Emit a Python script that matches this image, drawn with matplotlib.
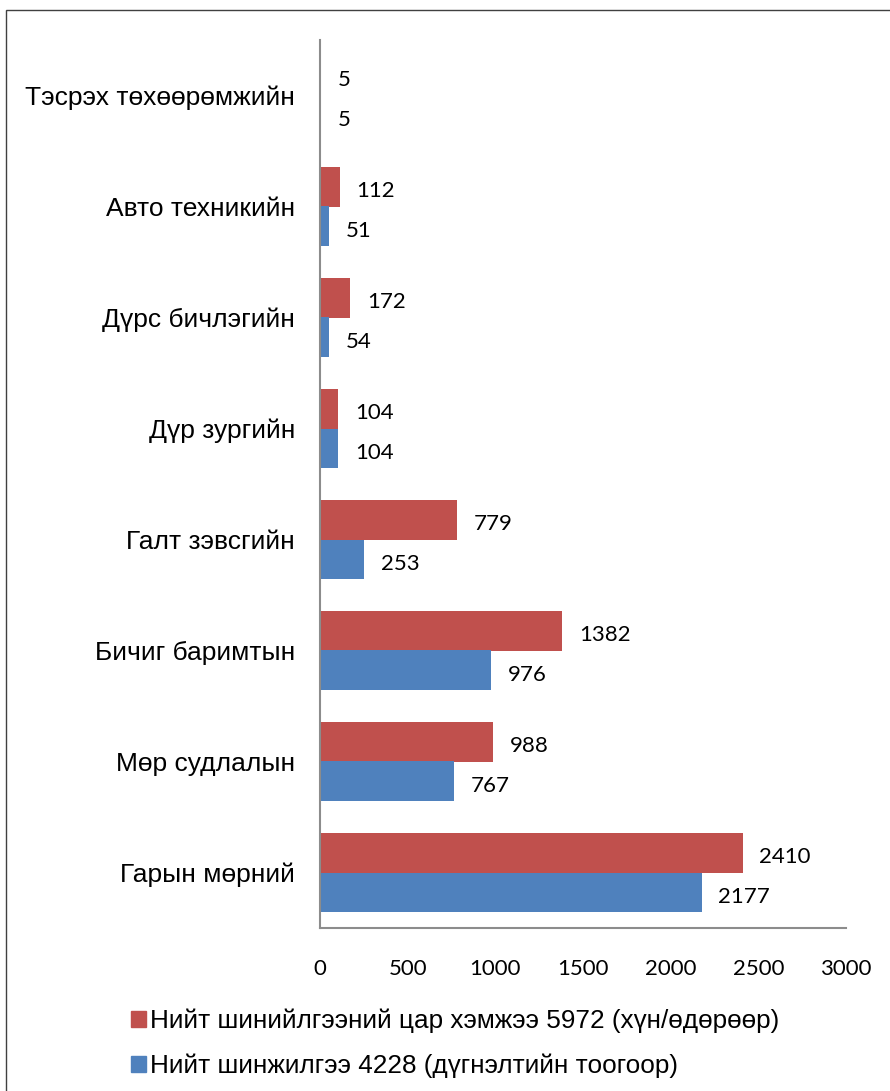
import numpy as np
from matplotlib import pyplot as plt
from matplotlib.patches import Rectangle, Patch

categories = ["Гарын мөрний", "Мөр судлалын", "Бичиг баримтын", "Галт зэвсгийн",
              "Дүр зургийн", "Дүрс бичлэгийн", "Авто техникийн", "Тэсрэх төхөөрөмжийн"]
scale_vals = [2410, 988, 1382, 779, 104, 172, 112, 5]
exam_vals = [2177, 767, 976, 253, 104, 54, 51, 5]
series_names = ["Нийт шинийлгээний цар хэмжээ 5972 (хүн/өдөрөөр)",
                "Нийт шинжилгээ 4228 (дүгнэлтийн тоогоор)"]
xticks = [0, 500, 1000, 1500, 2000, 2500, 3000]

red = "#C0504D"
blue = "#4F81BD"
num_font = "Lato"
txt_font = "Liberation Sans"

fig = plt.figure(figsize=(8.9, 10.91), dpi=100)
ax = fig.add_axes([320/890, 1-928/1091, (846-320)/890, (928-40)/1091])

y = np.arange(len(categories))
h = 0.36
ax.barh(y + h/2, scale_vals, height=h, color=red, lw=0)
ax.barh(y - h/2, exam_vals, height=h, color=blue, lw=0)

for yi, v in zip(y, scale_vals):
    ax.annotate(str(v), (v, yi + h/2), xytext=(12, -3), textcoords="offset points",
                ha="left", va="center", fontsize=16, family=num_font)
for yi, v in zip(y, exam_vals):
    ax.annotate(str(v), (v, yi - h/2), xytext=(12, -3), textcoords="offset points",
                ha="left", va="center", fontsize=16, family=num_font)

ax.set_xlim(0, 3000)
ax.set_ylim(-0.5, len(categories) - 0.5)
ax.set_yticks(y)
ax.set_yticklabels(categories, family=txt_font, fontsize=19)
ax.set_xticks(xticks)
ax.set_xticklabels([str(t) for t in xticks], family=num_font, fontsize=16)
ax.tick_params(axis="y", length=0, pad=18)
ax.tick_params(axis="x", length=0, pad=22)
for s in ["top", "right"]:
    ax.spines[s].set_visible(False)
for s in ["left", "bottom"]:
    ax.spines[s].set_color("#8c8c8c")
    ax.spines[s].set_linewidth(1.5)

handles = [Patch(color=red), Patch(color=blue)]
fig.legend(handles, series_names, loc="upper left", bbox_to_anchor=(107/890, 1-985/1091),
           frameon=False, prop={"family": txt_font, "size": 18.8},
           handlelength=0.6, handleheight=0.6, handletextpad=0.15, labelspacing=0.8)

fig.patches.append(Rectangle((6/890, -0.1), 2, 1.1 - 10/1091, transform=fig.transFigure,
                             fill=False, edgecolor="#404040", lw=1.0))

fig.savefig("out.png", dpi=100)
